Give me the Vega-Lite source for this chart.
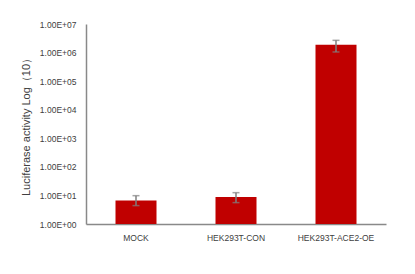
{
  "$schema": "https://vega.github.io/schema/vega-lite/v6.json",
  "autosize": {"type": "none"},
  "width": 300,
  "height": 200,
  "padding": {"left": 86, "top": 24, "right": 29, "bottom": 50},
  "background": "white",
  "config": {"view": {"stroke": null}, "font": "Liberation Sans"},
  "data": {"values": [
    {"group": "MOCK", "value": 6.7, "lo": 4.4, "hi": 9.8},
    {"group": "HEK293T-CON", "value": 8.8, "lo": 5.6, "hi": 12.5},
    {"group": "HEK293T-ACE2-OE", "value": 1890000, "lo": 1050000, "hi": 2680000}
  ]},
  "encoding": {
    "x": {"field": "group", "type": "nominal", "sort": null,
      "scale": {"paddingInner": 0.59, "paddingOuter": 0.295},
      "axis": {"title": null, "labelAngle": 0, "ticks": false, "labelPadding": 9,
        "labelFontSize": 8.5, "labelColor": "#404040", "domainColor": "#898989", "domainWidth": 1.5}}
  },
  "layer": [
    {"mark": {"type": "bar", "color": "#C00000"},
     "encoding": {
       "y": {"field": "value", "type": "quantitative",
         "scale": {"type": "log", "domain": [1, 10000000], "nice": false},
         "axis": {"title": "Luciferase activity Log（10）", "values": [1, 10, 100, 1000, 10000, 100000, 1000000, 10000000],
           "labelExpr": "'1.00E+0' + slice(format(datum.value, '.0e'), 3)",
           "grid": false, "ticks": false, "labelFontSize": 8.5, "labelColor": "#404040", "labelPadding": 10,
           "titleFontSize": 11, "titleFontWeight": "normal", "titleColor": "#404040", "titlePadding": 8,
           "domainColor": "#898989", "domainWidth": 1.5}},
       "y2": {"datum": 1}
     }},
    {"mark": {"type": "rule", "color": "#7f7f7f", "strokeWidth": 1.5},
     "encoding": {"y": {"field": "lo", "type": "quantitative"}, "y2": {"field": "hi"}}},
    {"mark": {"type": "tick", "color": "#7f7f7f", "size": 7, "thickness": 1.5, "orient": "horizontal"},
     "encoding": {"y": {"field": "lo", "type": "quantitative"}}},
    {"mark": {"type": "tick", "color": "#7f7f7f", "size": 7, "thickness": 1.5, "orient": "horizontal"},
     "encoding": {"y": {"field": "hi", "type": "quantitative"}}}
  ]
}
